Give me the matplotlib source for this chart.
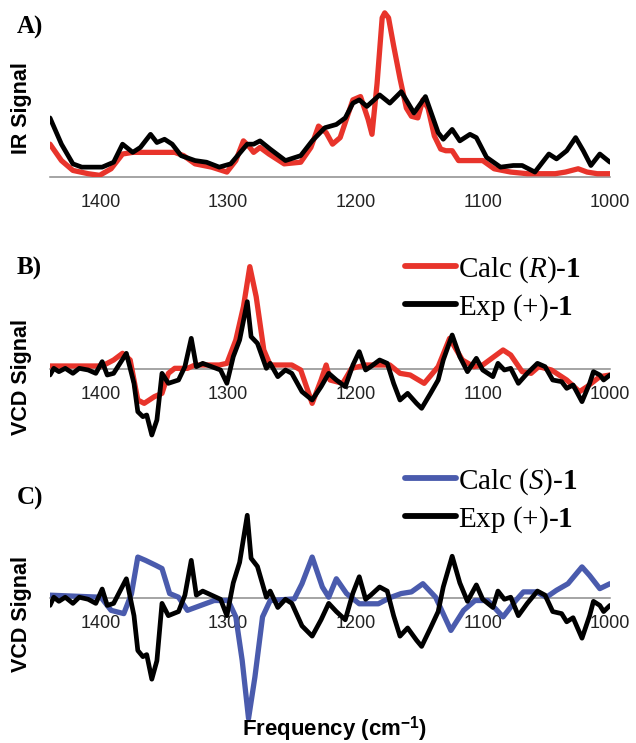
import matplotlib
matplotlib.use("Agg")
import matplotlib.pyplot as plt

plt.rcParams["font.family"] = "Liberation Sans"
plt.rcParams["mathtext.fontset"] = "custom"
plt.rcParams["mathtext.rm"] = "Liberation Serif"
plt.rcParams["mathtext.it"] = "Liberation Serif:italic"
plt.rcParams["mathtext.bf"] = "Liberation Serif:bold"
plt.rcParams["mathtext.sf"] = "Liberation Sans:bold"

# ---- data ----
ticks = [1400, 1300, 1200, 1100, 1000]

# A) IR, calculated (red)
ir_calc_x = [1440, 1431, 1422, 1410, 1401, 1392, 1383, 1375, 1342, 1335, 1326, 1313, 1301, 1294,
             1288, 1283, 1280, 1275, 1268, 1256, 1243, 1235, 1229, 1223, 1218, 1212, 1202, 1196,
             1190, 1187, 1183, 1179, 1177, 1174, 1170, 1165, 1160, 1156, 1151, 1147, 1143, 1138,
             1133, 1129, 1124, 1119, 1100, 1091, 1078, 1065, 1043, 1035, 1025, 1018, 1010, 1000]
ir_calc_y = [0.20, 0.10, 0.04, 0.02, 0.01, 0.05, 0.14, 0.15, 0.15, 0.13, 0.08, 0.06, 0.03, 0.10,
             0.22, 0.18, 0.15, 0.18, 0.14, 0.08, 0.09, 0.18, 0.31, 0.27, 0.20, 0.24, 0.47, 0.49,
             0.35, 0.26, 0.57, 0.97, 1.00, 0.97, 0.80, 0.60, 0.42, 0.37, 0.36, 0.47, 0.42, 0.25,
             0.17, 0.16, 0.16, 0.10, 0.10, 0.05, 0.03, 0.02, 0.02, 0.03, 0.05, 0.03, 0.02, 0.02]

# A) IR, experimental (black)
ir_exp_x = [1440, 1431, 1422, 1415, 1399, 1390, 1383, 1375, 1369, 1361, 1356, 1350, 1344, 1337,
            1326, 1317, 1307, 1298, 1285, 1280, 1275, 1267, 1255, 1243, 1234, 1224, 1215, 1208,
            1202, 1197, 1191, 1181, 1173, 1164, 1154, 1145, 1135, 1131, 1124, 1118, 1110, 1105,
            1097, 1086, 1076, 1069, 1059, 1048, 1042, 1034, 1027, 1021, 1015, 1008, 1000]
ir_exp_y = [0.36, 0.20, 0.08, 0.06, 0.06, 0.09, 0.20, 0.15, 0.18, 0.26, 0.21, 0.23, 0.20, 0.13,
            0.10, 0.09, 0.06, 0.08, 0.20, 0.20, 0.22, 0.17, 0.10, 0.13, 0.22, 0.30, 0.32, 0.36,
            0.45, 0.47, 0.43, 0.50, 0.45, 0.52, 0.39, 0.49, 0.27, 0.23, 0.29, 0.22, 0.26, 0.24,
            0.12, 0.06, 0.07, 0.07, 0.03, 0.14, 0.11, 0.16, 0.24, 0.16, 0.07, 0.14, 0.09]

# B) VCD, calculated (R) (red)
vcd_r_x = [1440, 1399, 1390, 1383, 1377, 1371, 1366, 1358, 1352, 1347, 1342, 1332, 1326, 1307,
           1301, 1294, 1288, 1283, 1278, 1272, 1267, 1250, 1243, 1234, 1227, 1223, 1220, 1210,
           1203, 1192, 1173, 1165, 1157, 1146, 1135, 1126, 1116, 1107, 1100, 1084, 1078, 1069,
           1062, 1056, 1046, 1034, 1024, 1018, 1008, 1000]
vcd_r_y = [0.09, 0.09, 0.27, 0.47, 0.27, -0.93, -1.03, -0.83, -0.73, -0.13, 0.02, 0.02, 0.12, 0.12,
           0.17, 0.87, 1.87, 3.07, 2.17, 0.57, 0.12, 0.12, -0.03, -1.03, -0.33, 0.12, -0.33, -0.43,
           0.02, 0.12, 0.12, -0.13, -0.18, -0.43, 0.07, 0.92, 0.27, 0.07, 0.12, 0.57, 0.42, -0.08,
           -0.13, 0.07, -0.03, -0.33, -0.68, -0.53, -0.23, -0.18]

# B/C) VCD, experimental (+) (black)
vcd_exp_x = [1440, 1437, 1433, 1428, 1422, 1417, 1410, 1404, 1399, 1395, 1390, 1380, 1374, 1371,
             1367, 1364, 1360, 1356, 1352, 1347, 1339, 1334, 1329, 1325, 1320, 1313, 1306, 1301,
             1296, 1291, 1285, 1282, 1277, 1270, 1267, 1261, 1255, 1250, 1242, 1234, 1227, 1221,
             1215, 1208, 1202, 1197, 1192, 1188, 1181, 1175, 1170, 1165, 1159, 1152, 1148, 1141,
             1135, 1131, 1124, 1118, 1112, 1105, 1100, 1092, 1088, 1083, 1078, 1072, 1065, 1057,
             1051, 1045, 1038, 1034, 1029, 1022, 1016, 1013, 1008, 1005, 1000]
vcd_exp_y = [-0.18, 0.02, -0.08, 0.02, -0.13, 0.02, -0.03, -0.13, 0.22, -0.18, -0.13, 0.47, -0.43, -1.28,
             -1.43, -1.38, -1.98, -1.53, -0.13, -0.43, -0.33, 0.07, 0.92, 0.07, 0.17, 0.07, -0.03, -0.43,
             0.37, 0.87, 2.02, 0.97, 0.77, 0.02, 0.17, -0.23, -0.03, -0.13, -0.68, -0.93, -0.53, -0.13,
             -0.33, -0.53, 0.12, 0.52, -0.03, 0.07, 0.27, 0.17, -0.43, -0.93, -0.73, -1.03, -1.18, -0.73,
             -0.33, 0.27, 1.02, 0.37, -0.08, 0.32, -0.03, -0.23, 0.17, -0.03, 0.02, -0.43, -0.13, 0.17,
             0.07, -0.33, -0.38, -0.58, -0.48, -0.98, -0.43, -0.08, -0.18, -0.33, -0.18]

# C) VCD, calculated (S) (blue)
vcd_s_x = [1440, 1400, 1392, 1382, 1376, 1371, 1365, 1357, 1352, 1346, 1339, 1332, 1325, 1311,
           1300, 1294, 1289, 1284, 1279, 1273, 1267, 1248, 1242, 1234, 1226, 1221, 1215, 1207,
           1197, 1182, 1172, 1164, 1156, 1147, 1137, 1125, 1115, 1106, 1096, 1084, 1074, 1068,
           1058, 1050, 1042, 1033, 1022, 1016, 1008, 1000]
vcd_s_y = [0.07, 0.02, -0.30, -0.38, 0.10, 1.00, 0.92, 0.80, 0.72, 0.11, 0.02, -0.30, -0.22, -0.06,
           -0.06, -0.46, -1.52, -2.94, -1.93, -0.46, -0.06, -0.02, 0.35, 1.00, 0.27, 0.02, 0.47, 0.11,
           -0.14, -0.14, 0.02, 0.11, 0.15, 0.35, 0.02, -0.79, -0.30, -0.06, -0.06, -0.46, -0.06, 0.15,
           0.15, 0.02, 0.19, 0.35, 0.76, 0.55, 0.23, 0.35]

red = "#e8342b"
blue = "#4a5bad"
black = "#000000"
axis_grey = "#8c8c8c"

fig = plt.figure(figsize=(6.36, 7.43), dpi=100)
axA = fig.add_axes([0.0786, 0.7618, 0.8805, 0.2275])
axB = fig.add_axes([0.0786, 0.4051, 0.8805, 0.2423])
axC = fig.add_axes([0.0786, 0.0175, 0.8805, 0.3392])


def style(ax, ylim):
    ax.set_xlim(1440, 1000)
    ax.set_ylim(*ylim)
    for s in ["top", "right", "left"]:
        ax.spines[s].set_visible(False)
    ax.spines["bottom"].set_position(("data", 0))
    ax.spines["bottom"].set_color(axis_grey)
    ax.spines["bottom"].set_linewidth(1.1)
    ax.spines["bottom"].set_zorder(1)
    ax.set_yticks([])
    ax.set_xticks(ticks)
    ax.set_xticklabels([str(t) for t in ticks])
    ax.tick_params(axis="x", length=0, pad=12, labelsize=13, colors="#222222")
    ax.patch.set_visible(False)


kw_c = dict(lw=3.8, solid_capstyle="round", solid_joinstyle="round", zorder=3)
kw_e = dict(lw=3.4, solid_capstyle="round", solid_joinstyle="round", zorder=4)

# A) IR
axA.plot(ir_calc_x, ir_calc_y, color=red, **kw_c)
axA.plot(ir_exp_x, ir_exp_y, color=black, **kw_e)
style(axA, (0, 1.03))

# B) VCD (R)
axB.plot(vcd_r_x, vcd_r_y, color=red, label=r"Calc ($\mathit{R}$)-$\mathbf{1}$", **kw_c)
axB.plot(vcd_exp_x, vcd_exp_y, color=black, label=r"Exp (+)-$\mathbf{1}$", **kw_e)
style(axB, (-2.19, 3.21))

# C) VCD (S)
axC.plot(vcd_s_x, vcd_s_y, color=blue, label=r"Calc ($\mathit{S}$)-$\mathbf{1}$", **kw_c)
axC.plot(vcd_exp_x, vcd_exp_y, color=black, label=r"Exp (+)-$\mathbf{1}$", **kw_e)
style(axC, (-3.22, 2.93))

for ax, top in [(axB, 1 - 254 / 743), (axC, 1 - 466 / 743)]:
    leg = ax.legend(loc="upper left", bbox_to_anchor=(405 / 636, top),
                    bbox_transform=fig.transFigure, frameon=False,
                    prop={"family": "Liberation Serif", "size": 21},
                    handlelength=1.75, handletextpad=0.05, labelspacing=0.25,
                    borderaxespad=0, borderpad=0)
    for line in leg.get_lines():
        line.set_linewidth(4.2)

# panel letters
for lab, ypx in [("A)", 27), ("B)", 268), ("C)", 498)]:
    fig.text(17 / 636, 1 - ypx / 743, lab, family="Liberation Serif", weight="bold",
             fontsize=18, va="center", ha="left")

# y labels
for lab, ypx in [("IR Signal", 108), ("VCD Signal", 377), ("VCD Signal", 614)]:
    fig.text(22 / 636, 1 - ypx / 743, lab, rotation=90, weight="bold", fontsize=15.5,
             va="center", ha="center")

fig.text(334 / 636, 1 - 729 / 743, r"Frequency (cm$^{\mathsf{-1}}$)", weight="bold",
         fontsize=16, ha="center", va="center")

fig.savefig("out.png", dpi=100)
